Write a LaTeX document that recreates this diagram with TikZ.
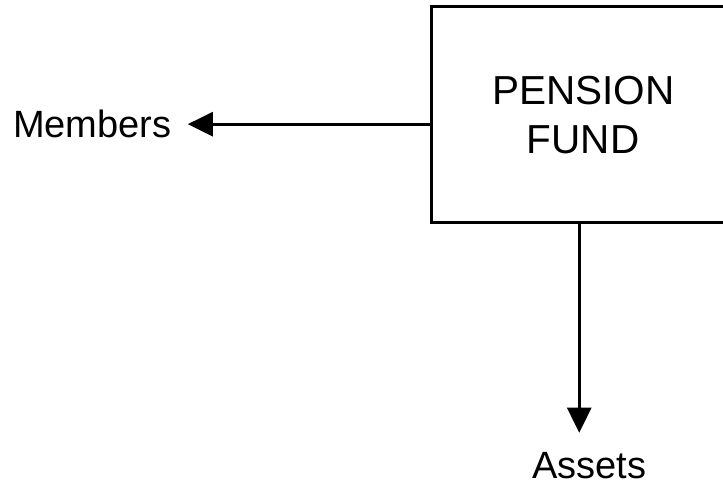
\documentclass[tikz,border=0pt]{standalone}
\usepackage{fontspec}
\setmainfont{Liberation Sans}
\usetikzlibrary{arrows.meta,calc}
\begin{document}
\begin{tikzpicture}[x=1pt,y=-1pt,
  link/.style={line width=3pt,-{Triangle[length=25pt,width=24pt]}},
  fundbox/.style={minimum width=304pt,minimum height=215pt,
    anchor=north west,align=center,inner sep=0pt,
    font=\fontsize{40.5}{49}\selectfont},
  tag/.style={inner sep=0pt,font=\fontsize{38}{42}\selectfont}]
\useasboundingbox (0,0) rectangle (723,487);
% the fund box runs past the right margin, so only three sides are drawn
\node[fundbox] (fund) at (431,7) {PENSION\\FUND};
\coordinate (rim) at (723,0);
\draw[line width=3pt] (fund.north -| rim) -- (fund.north west)
  -- (fund.south west) -- (fund.south -| rim);
\node[tag,anchor=base west] (members) at (13,137) {Members};
\node[tag,anchor=base,inner ysep=19pt] (assets) at (589.5,478) {Assets};
\coordinate (lpt) at ($(fund.north west)!0.544!(fund.south west)$);
\coordinate (bpt) at ($(fund.south west)!0.487!(fund.south east)$);
\coordinate (ltip) at ($(members.east)+(16,0)$);
\draw[link] (lpt) -- (lpt -| ltip);
\draw[link] (bpt) -- (bpt |- assets.north);
\end{tikzpicture}
\end{document}
